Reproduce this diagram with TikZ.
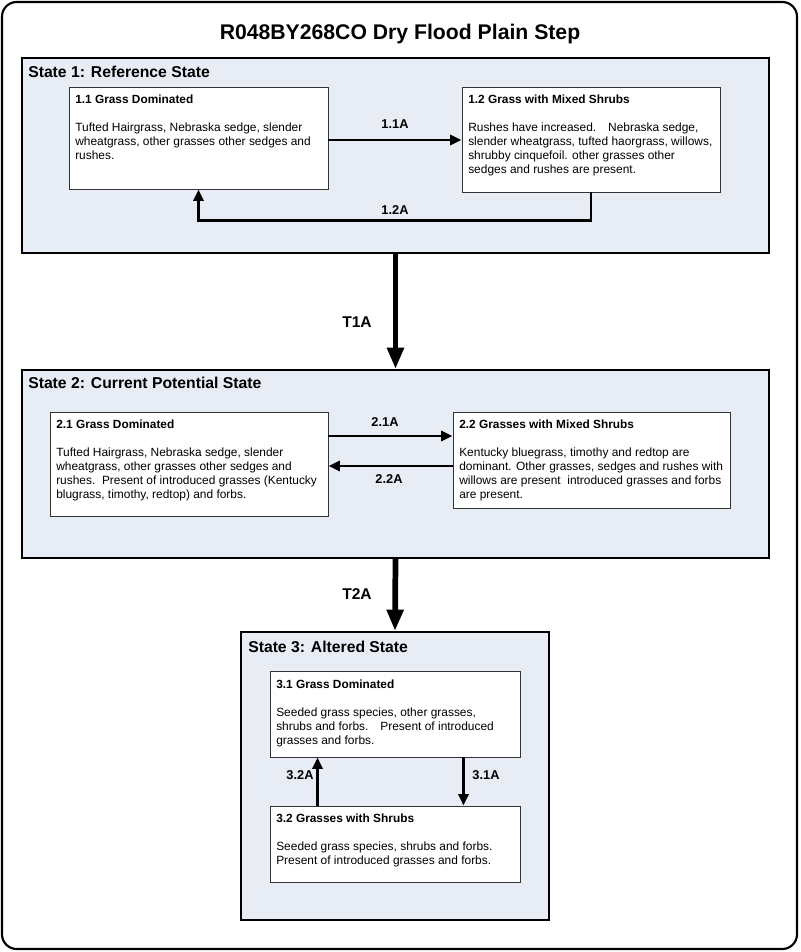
\documentclass[tikz,border=0pt]{standalone}
\usepackage{fontspec}
\setmainfont{Liberation Sans}
\usetikzlibrary{arrows.meta,fit,calc}
\definecolor{statefill}{RGB}{232,236,244}
\newcommand{\btitlefont}{\fontsize{8.9}{10.5}\selectfont\bfseries}
\tikzset{
  outer/.style={draw=black, line width=1.6pt, rounded corners=11pt},
  statebox/.style={draw=black, line width=1.5pt, fill=statefill, inner sep=0pt},
  phasebox/.style={draw=black!80, line width=0.7pt, fill=white, inner sep=0pt},
  stlabel/.style={anchor=west, inner sep=0pt, font=\fontsize{11.8}{13}\selectfont\bfseries},
  btext/.style={anchor=north west, inner sep=0pt, align=left, font=\fontsize{8.95}{10.5}\selectfont},
  arr/.style={line width=2.2pt, -{Triangle[length=8.5pt,width=7.5pt]}},
  bigarr/.style={line width=4.3pt, -{Triangle[length=16pt,width=12pt]}},
  elabel/.style={inner sep=0pt, font=\fontsize{9.6}{11}\selectfont\bfseries},
  tlabel/.style={inner sep=0pt, font=\fontsize{11.7}{13}\selectfont\bfseries}
}
\begin{document}
\begin{tikzpicture}[x=0.75pt,y=-0.75pt]
\useasboundingbox (0,0) rectangle (800,952);
\draw[outer] (2,2) rectangle (797,949);
\node[inner sep=0pt, font=\fontsize{15.9}{18}\selectfont\bfseries] (title) at (400,34) {R048BY268CO Dry Flood Plain Step};

% State 1
\node[statebox, fit={(22,58) (769,253)}] (s1) {};
\node[stlabel] (s1l) at (28,72) {State 1: Reference State};
\node[phasebox, fit={(69,87) (328,189)}] (b11) {};
\node[btext] (t11) at (75,95) {{\btitlefont 1.1 Grass Dominated}\\[10.5pt]Tufted Hairgrass, Nebraska sedge, slender\\wheatgrass, other grasses other sedges and\\rushes.};
\node[phasebox, fit={(462,87) (720,192)}] (b12) {};
\node[btext] (t12) at (468,95) {{\btitlefont 1.2 Grass with Mixed Shrubs}\\[10.5pt]Rushes have increased.\quad Nebraska sedge,\\slender wheatgrass, tufted haorgrass, willows,\\shrubby cinquefoil. other grasses other\\sedges and rushes are present.};
\draw[arr] ($(b11.east)+(0,2)$) -- ($(b12.west)+(0,0.5)$);
\node[elabel] (l11a) at (395,124) {1.1A};
\draw[arr] (b12.south) -- ++(0,28) -| (b11.south);
\node[elabel] (l12a) at (395,210) {1.2A};

% State 2
\node[statebox, fit={(22,370) (769,558)}] (s2) {};
\node[stlabel] (s2l) at (28,383) {State 2: Current Potential State};
\node[phasebox, fit={(50,412) (328,516)}] (b21) {};
\node[btext] (t21) at (56,420) {{\btitlefont 2.1 Grass Dominated}\\[10.5pt]Tufted Hairgrass, Nebraska sedge, slender\\wheatgrass, other grasses other sedges and\\rushes.\ \ Present of introduced grasses (Kentucky\\blugrass, timothy, redtop) and forbs.};
\node[phasebox, fit={(453,412) (730,508)}] (b22) {};
\node[btext] (t22) at (459,420) {{\btitlefont 2.2 Grasses with Mixed Shrubs}\\[10.5pt]Kentucky bluegrass, timothy and redtop are\\dominant. Other grasses, sedges and rushes with\\willows are present\ \ introduced grasses and forbs\\are present.};
\draw[arr] ($(b21.east)+(0,-28)$) -- ($(b22.west)+(0,-24)$);
\node[elabel] (l21a) at (385,422) {2.1A};
\draw[arr] ($(b22.west)+(0,6)$) -- ($(b21.east)+(0,2)$);
\node[elabel] (l22a) at (389,479) {2.2A};

% State 3
\node[statebox, fit={(241,632) (549,920)}] (s3) {};
\node[stlabel] (s3l) at (248,647) {State 3: Altered State};
\node[phasebox, fit={(270,671) (520,757)}] (b31) {};
\node[btext] (t31) at (276,680) {{\btitlefont 3.1 Grass Dominated}\\[10.5pt]Seeded grass species, other grasses,\\shrubs and forbs.\quad Present of introduced\\grasses and forbs.};
\node[phasebox, fit={(270,806) (520,882)}] (b32) {};
\node[btext] (t32) at (276,814) {{\btitlefont 3.2 Grasses with Shrubs}\\[10.5pt]Seeded grass species, shrubs and forbs.\\Present of introduced grasses and forbs.};
\draw[arr] ($(b31.south east)+(-57,0)$) -- ($(b32.north east)+(-57,0)$);
\node[elabel] (l31a) at (486,775) {3.1A};
\draw[arr] ($(b32.north west)+(48,0)$) -- ($(b31.south west)+(48,0)$);
\node[elabel] (l32a) at (300,775) {3.2A};

% transitions
\draw[bigarr] (s1.south) -- (s2.north);
\node[tlabel] (lt1a) at (357,322) {T1A};
\draw[bigarr] (s2.south) -- (s3.north);
\node[tlabel] (lt2a) at (357,594) {T2A};
\end{tikzpicture}
\end{document}
